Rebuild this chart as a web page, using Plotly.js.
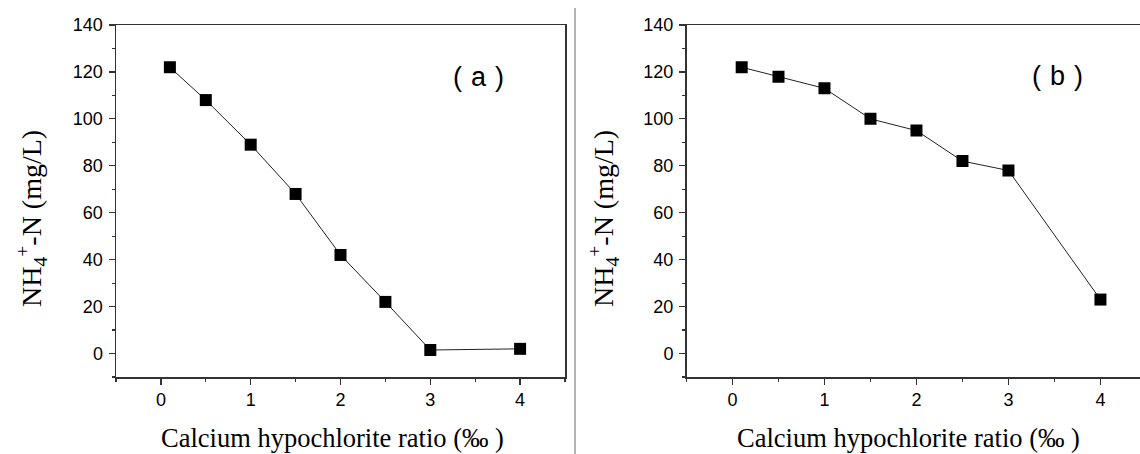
<!DOCTYPE html>
<html>
<head>
<meta charset="utf-8">
<script src="https://cdn.plot.ly/plotly-3.0.1.min.js"></script>
<style>html,body{margin:0;padding:0;background:#fff;}#chart{width:1140px;height:454px;}</style>
</head>
<body>
<div id="chart"></div>
<script>
var W = 1140, H = 454;
var ratioA = [0.1, 0.5, 1, 1.5, 2, 2.5, 3, 4];
var nh4A = [122, 108, 89, 68, 42, 22, 1.5, 2];
var ratioB = [0.1, 0.5, 1, 1.5, 2, 2.5, 3, 4];
var nh4B = [122, 118, 113, 100, 95, 82, 78, 23];
var xTickVals = [0, 1, 2, 3, 4];
var yTickVals = [0, 20, 40, 60, 80, 100, 120, 140];
var xTitle = 'Calcium hypochlorite ratio (‰\u2005)';
var yTitle = 'NH<sub>4</sub><sup>+</sup>-N (mg/L)';
var panelLabels = ['(\u2004a\u2004)', '(\u2004b\u2004)'];

function px(x){ return x / W; }
function py(y){ return 1 - y / H; }

var lineStyle = {color: '#222', width: 1};
var markerStyle = {symbol: 'square', size: 12, color: '#000'};

var traces = [
  {x: ratioA, y: nh4A, type: 'scatter', mode: 'lines+markers', line: lineStyle, marker: markerStyle, xaxis: 'x', yaxis: 'y', showlegend: false},
  {x: ratioB, y: nh4B, type: 'scatter', mode: 'lines+markers', line: lineStyle, marker: markerStyle, xaxis: 'x2', yaxis: 'y2', showlegend: false}
];

var serif = '"Liberation Serif", "Times New Roman", serif';
var labelFont = '"Liberation Sans", Arial, sans-serif';
var tickFont = {family: '"Liberation Sans", Arial, sans-serif', size: 18, color: '#000'};
function xax(domain, range, mirror){
  return {domain: domain, range: range, tickmode: 'array', tickvals: xTickVals, ticktext: xTickVals.map(String),
    ticks: 'outside', ticklen: 6, tickwidth: 1.2, tickcolor: '#333', showline: true, linecolor: '#333', linewidth: 1.5,
    mirror: mirror, showgrid: false, zeroline: false, tickfont: tickFont, ticklabelstandoff: 0,
    minor: {ticks: 'outside', dtick: 0.5, tick0: 0, ticklen: 3, tickwidth: 1.2, tickcolor: '#333', showgrid: false},
    fixedrange: true};
}
function yax(domain, mirror, anchor){
  return {domain: domain, range: [-10, 140], tickmode: 'array', tickvals: yTickVals, ticktext: yTickVals.map(String),
    ticks: 'outside', ticklen: 6, tickwidth: 1.2, tickcolor: '#333', showline: true, linecolor: '#333', linewidth: 1.5,
    mirror: mirror, showgrid: false, zeroline: false, tickfont: tickFont, ticklabelstandoff: 2, anchor: anchor,
    minor: {ticks: 'outside', dtick: 10, tick0: 0, ticklen: 3, tickwidth: 1.2, tickcolor: '#333', showgrid: false},
    fixedrange: true};
}

var yDom = [py(377), py(25)];
var layout = {
  width: W, height: H,
  margin: {l: 0, r: 0, t: 0, b: 0, pad: 0},
  paper_bgcolor: '#fff', plot_bgcolor: '#fff',
  xaxis: Object.assign(xax([px(116), px(565)], [-0.5, 4.5], true), {anchor: 'y'}),
  yaxis: yax(yDom, true, 'x'),
  xaxis2: Object.assign(xax([px(686.5), 1], [-0.5, 4.43], true), {anchor: 'y2'}),
  yaxis2: yax(yDom, false, 'x2'),
  shapes: [
    {type: 'line', xref: 'paper', yref: 'paper', x0: px(575), x1: px(575), y0: 0, y1: py(8), line: {color: '#666', width: 1}}
  ],
  annotations: [
    {xref: 'paper', yref: 'paper', x: px(332.5), y: py(438), text: xTitle, showarrow: false, xanchor: 'center', yanchor: 'middle',
     font: {family: serif, size: 26.5, color: '#000'}},
    {xref: 'paper', yref: 'paper', x: px(908), y: py(438), text: xTitle, showarrow: false, xanchor: 'center', yanchor: 'middle',
     font: {family: serif, size: 26.5, color: '#000'}},
    {xref: 'paper', yref: 'paper', x: px(31), y: py(219), text: yTitle, showarrow: false, textangle: -90, xanchor: 'center', yanchor: 'middle',
     font: {family: serif, size: 28, color: '#000'}},
    {xref: 'paper', yref: 'paper', x: px(603), y: py(219), text: yTitle, showarrow: false, textangle: -90, xanchor: 'center', yanchor: 'middle',
     font: {family: serif, size: 28, color: '#000'}},
    {xref: 'paper', yref: 'paper', x: px(479), y: py(76.5), text: panelLabels[0], showarrow: false, xanchor: 'center', yanchor: 'middle',
     font: {family: labelFont, size: 27, color: '#000'}},
    {xref: 'paper', yref: 'paper', x: px(1057.5), y: py(75.5), text: panelLabels[1], showarrow: false, xanchor: 'center', yanchor: 'middle',
     font: {family: labelFont, size: 27, color: '#000'}}
  ]
};

Plotly.newPlot('chart', traces, layout, {displayModeBar: false, staticPlot: true});
</script>
</body>
</html>
